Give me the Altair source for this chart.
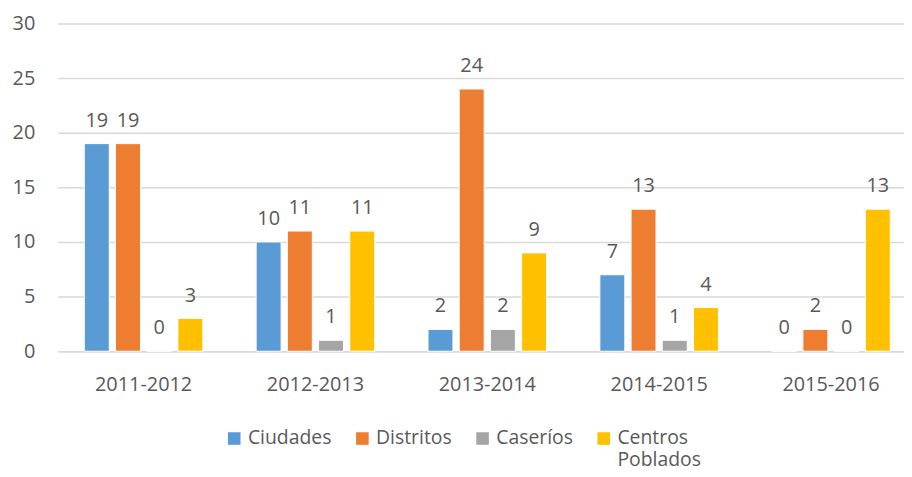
import altair as alt
import pandas as pd

periods = ["2011-2012", "2012-2013", "2013-2014", "2014-2015", "2015-2016"]
series = ["Ciudades", "Distritos", "Caseríos", "Centros Poblados"]
ciudades = [19, 10, 2, 7, 0]
distritos = [19, 11, 24, 13, 2]
caserios = [0, 1, 2, 1, 0]
centros = [3, 11, 9, 4, 13]
colors = ["#5B9BD5", "#ED7D31", "#A5A5A5", "#FFC000"]
y_ticks = [0, 5, 10, 15, 20, 25, 30]

rows = []
for s, vals in zip(series, [ciudades, distritos, caserios, centros]):
    for p, v in zip(periods, vals):
        rows.append({"periodo": p, "serie": s, "valor": v})
df = pd.DataFrame(rows)

FONT = "Open Sans"
TXT = "#595959"

x_enc = alt.X("periodo:N", sort=periods, title=None,
              scale=alt.Scale(range=[0, 865], paddingInner=0.31, paddingOuter=0.155),
              axis=alt.Axis(labelAngle=0, labelFontSize=20, labelColor=TXT, labelFont=FONT,
                            labelPadding=24, ticks=False, domainColor="#D9D9D9", domainWidth=1.5,
                            grid=False))
xo_enc = alt.XOffset("serie:N", sort=series,
                     scale=alt.Scale(paddingInner=0.2, paddingOuter=0))
color_enc = alt.Color("serie:N", sort=series,
                      scale=alt.Scale(domain=series, range=colors),
                      legend=alt.Legend(title=None, orient="none", legendX=168, legendY=408,
                                        direction="horizontal", columns=4, columnPadding=21,
                                        symbolType="square", symbolSize=160, symbolStrokeWidth=0,
                                        labelFont=FONT, labelFontSize=19.5, labelColor=TXT,
                                        labelOffset=4, labelLimit=200, labelBaseline="middle",
                                        labelExpr="datum.label == 'Centros Poblados' ? ['Centros', 'Poblados'] : [datum.label, '']"))

bars = alt.Chart(df).mark_bar(stroke="white", strokeWidth=1).encode(
    x=x_enc,
    xOffset=xo_enc,
    y=alt.Y("valor:Q", title=None,
            scale=alt.Scale(domain=[0, 30]),
            axis=alt.Axis(values=y_ticks, labelFontSize=20, labelColor=TXT, labelFont=FONT,
                          labelPadding=23, ticks=False, domain=False,
                          gridColor="#D9D9D9", gridWidth=1.5)),
    color=color_enc,
)

labels = alt.Chart(df).mark_text(baseline="alphabetic", dy=-17, fontSize=20,
                                 font=FONT, color=TXT).encode(
    x=alt.X("periodo:N", sort=periods),
    xOffset=alt.XOffset("serie:N", sort=series),
    y="valor:Q",
    text="valor:Q",
)

chart = alt.layer(bars, labels).properties(
    width=852, height=330,
    autosize=alt.AutoSizeParams(type="none"),
    padding={"left": 50, "top": 14, "right": 0, "bottom": 115},
).configure_view(stroke=None)

chart.save("out.html", embed_options={"renderer": "svg", "actions": False})
